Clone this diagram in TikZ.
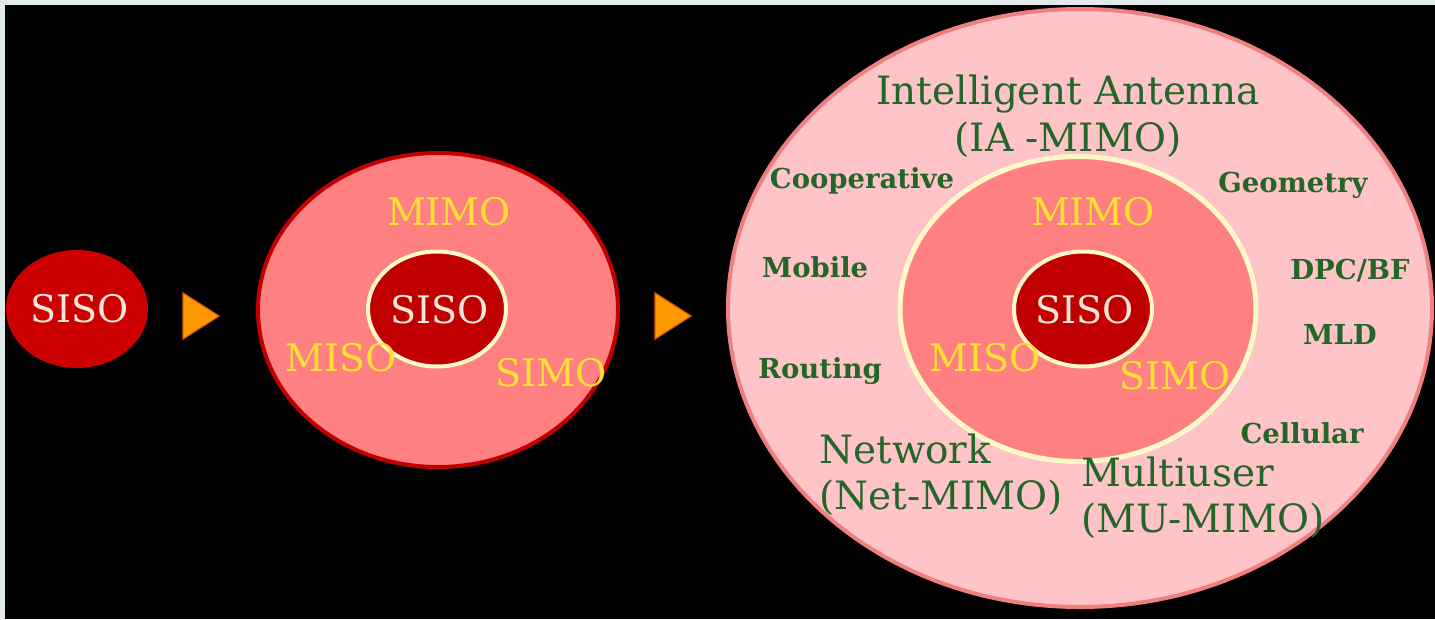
\documentclass[tikz,border=0pt]{standalone}
\usepackage{fontspec}
\setmainfont{DejaVu Serif}
\usetikzlibrary{shapes.geometric}
\definecolor{bord}{HTML}{E1EAE8}
\definecolor{sisored}{HTML}{CC0000}
\definecolor{darkred}{HTML}{C00000}
\definecolor{salmon}{HTML}{FF8080}
\definecolor{lightpink}{HTML}{FFC4C8}
\definecolor{outerline}{HTML}{F08080}
\definecolor{cream}{HTML}{FFF8C8}
\definecolor{sisotext}{HTML}{F5E6D8}
\definecolor{yel}{HTML}{FFE033}
\definecolor{grn}{HTML}{24662A}
\definecolor{orng}{HTML}{FF9900}
\definecolor{orngedge}{HTML}{E06000}
\tikzset{
  ell/.style={ellipse, inner sep=0pt},
  sisotxt/.style={text=sisotext, font=\fontsize{38}{38}\selectfont},
  ytxt/.style={text=yel, font=\fontsize{38}{38}\selectfont},
  bigtxt/.style={text=grn, font=\fontsize{39}{47}\selectfont, align=center},
  bigleft/.style={text=grn, font=\fontsize{39}{46}\selectfont, align=left, anchor=west, inner sep=0pt},
  smalltxt/.style={text=grn, font=\bfseries\fontsize{27.5}{28}\selectfont},
  tri/.style={fill=orng, draw=orngedge, line width=1.2pt, line join=miter}
}
\begin{document}
\begin{tikzpicture}[x=1pt,y=-1pt]
\useasboundingbox (0,0) rectangle (1435,619);
\fill[bord] (0,0) rectangle (1435,619);
\fill[black] (5,5) rectangle (1435,619);

% stage 1
\node[ell, fill=sisored, minimum width=142pt, minimum height=118pt] (s1) at (77,309) {};
\node[sisotxt] (s1t) at (80,309) {SISO};

% arrow 1
\coordinate (t1a) at (183,293);
\coordinate (t1b) at (219,316);
\coordinate (t1c) at (183,339);
\draw[tri] (t1a) -- (t1b) -- (t1c) -- cycle;

% stage 2
\node[ell, fill=salmon, draw=darkred, line width=4pt, minimum width=360pt, minimum height=314pt] (m2) at (438,310) {};
\node[ell, fill=darkred, draw=cream, line width=4pt, minimum width=138pt, minimum height=115pt] (s2) at (437,309) {};
\node[sisotxt] (s2t) at (440,310) {SISO};
\node[ytxt] (mimo2) at (449,212) {MIMO};
\node[ytxt] (miso2) at (341,358) {MISO};
\node[ytxt] (simo2) at (551,373) {SIMO};

% arrow 2
\coordinate (t2a) at (655,293);
\coordinate (t2b) at (691,316);
\coordinate (t2c) at (655,339);
\draw[tri] (t2a) -- (t2b) -- (t2c) -- cycle;

% stage 3
\node[ell, fill=lightpink, draw=outerline, line width=4pt, minimum width=704pt, minimum height=598pt] (o3) at (1080,308) {};
\node[ell, fill=salmon, draw=cream, line width=5pt, minimum width=356pt, minimum height=305pt] (m3) at (1078,309) {};
\node[ell, fill=darkred, draw=cream, line width=4pt, minimum width=138pt, minimum height=115pt] (s3) at (1083,309) {};
\node[sisotxt] (s3t) at (1085,310) {SISO};
\node[ytxt] (mimo3) at (1093,212) {MIMO};
\node[ytxt] (miso3) at (985,358) {MISO};
\node[ytxt] (simo3) at (1175,376) {SIMO};

\node[bigtxt] (ia) at (1068,116) {Intelligent Antenna\\(IA -MIMO)};
\node[bigleft] (net) at (819,475) {Network\\(Net-MIMO)};
\node[bigleft] (mu) at (1081,498) {Multiuser\\(MU-MIMO)};

\node[smalltxt] (coop) at (862,181) {Cooperative};
\node[smalltxt] (geo) at (1293,185) {Geometry};
\node[smalltxt] (mob) at (815,267) {Mobile};
\node[smalltxt] (dpc) at (1350,271) {DPC/BF};
\node[smalltxt] (mld) at (1340,334) {MLD};
\node[smalltxt] (rout) at (820,371) {Routing};
\node[smalltxt] (cell) at (1302,433) {Cellular};
\end{tikzpicture}
\end{document}
